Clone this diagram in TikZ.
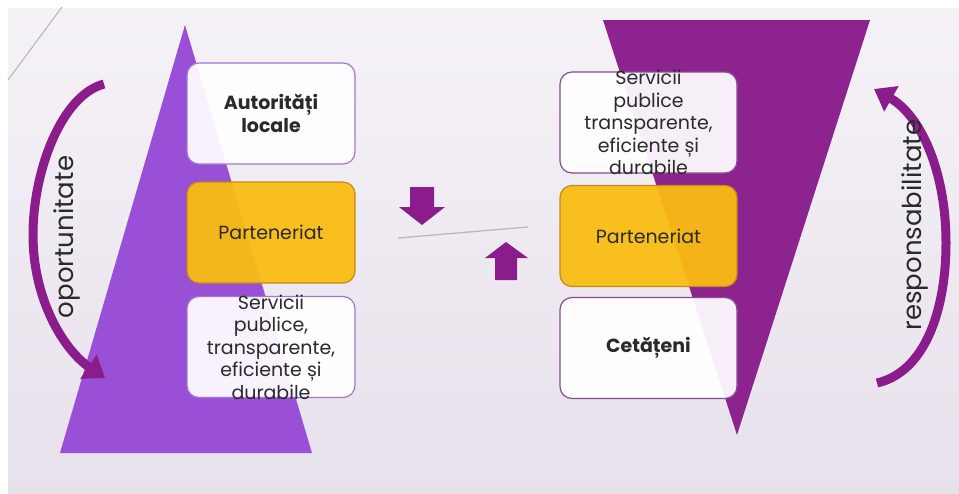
\documentclass[tikz,border=0pt]{standalone}
\usepackage{fontspec}
\setmainfont{Poppins}
\usepackage{tikz}
\usetikzlibrary{arrows.meta}
\definecolor{violetclair}{HTML}{9A50D6}
\definecolor{violetfonce}{HTML}{8C238F}
\definecolor{flecheviolet}{HTML}{8A1C8C}
\definecolor{orpart}{HTML}{FABD12}
\definecolor{bordor}{HTML}{C08A1C}
\definecolor{cadregauche}{HTML}{A476D2}
\definecolor{cadredroite}{HTML}{8A4A90}
\definecolor{textgris}{HTML}{2A2A2A}
\definecolor{fondhaut}{HTML}{F5F2F7}
\definecolor{fondbas}{HTML}{E7E1EB}
% texte centre dans le cadre, peut deborder
\newcommand{\textecadre}[1]{\vbox to 0pt{\vss\hsize=165pt\fontsize{19}{22.5}\selectfont\centering #1\par\vss}}

\begin{document}
\begin{tikzpicture}[x=1pt,y=-1pt,
    cadre/.style={draw=#1, line width=1.2pt, rounded corners=12pt,
      fill=white, fill opacity=.93, text opacity=1, text=textgris,
      minimum width=168pt, minimum height=101pt, inner sep=0pt},
    parten/.style={cadre=bordor, fill=orpart, fill opacity=.94},
    fleche/.style={flecheviolet, line width=9pt, -{Triangle[width=28pt,length=20pt]}},
    bloc/.style={fill=flecheviolet},
    mot/.style={rotate=90, text=textgris, font=\fontsize{26}{30}\selectfont}]
\useasboundingbox (0,0) rectangle (959,493);
% fond
\fill[white] (0,0) rectangle (959,493);
\shade[top color=fondhaut, bottom color=fondbas] (8,8) rectangle (959,493);
\draw[gray!70, line width=.8pt] (8,80) -- (62,7);
% triangles
\fill[violetclair] (185,25) -- (312,453) -- (60,453) -- cycle;
\fill[violetfonce] (603,20) -- (870,20) -- (737,435) -- cycle;
% cadres gauche
\node[cadre=cadregauche] (autoritati) at (271,113.5)
    {\textecadre{\textbf{Autorități}\\\textbf{locale}}};
\node[parten] (partg) at (271,232.5) {\textecadre{Parteneriat}};
\node[cadre=cadregauche] (servg) at (271,347)
    {\textecadre{Servicii\\publice,\\transparente,\\eficiente și\\durabile}};
% cadres droite
\node[cadre=cadredroite, minimum width=177pt] (servd) at (648.5,122.5)
    {\textecadre{Servicii\\publice\\transparente,\\eficiente și\\durabile}};
\node[parten, minimum width=177pt] (partd) at (648.5,236) {\textecadre{Parteneriat}};
\node[cadre=cadredroite, minimum width=177pt] (cetateni) at (648.5,348)
    {\textecadre{\textbf{Cetățeni}}};
% milieu
\draw[gray!55, line width=1.3pt] (398,238) -- (528,227);
\fill[bloc] (410,187) -- (434,187) -- (434,207) -- (445,207) -- (422,225)
    -- (399,207) -- (410,207) -- cycle;
\fill[bloc] (495,280) -- (517,280) -- (517,258) -- (528,258) -- (506,242)
    -- (485,258) -- (495,258) -- cycle;
% fleches courbes
\draw[fleche] (104,84) .. controls (62,95) and (33,170) .. (33,235)
    .. controls (33,300) and (64,350) .. (105,378);
\draw[fleche] (877,383) .. controls (925,372) and (946,310) .. (946,243)
    .. controls (946,170) and (920,115) .. (874,89);
\node[mot] (oport) at (67,237) {oportunitate};
\node[mot] (resp) at (915,225) {responsabilitate};
\end{tikzpicture}
\end{document}
